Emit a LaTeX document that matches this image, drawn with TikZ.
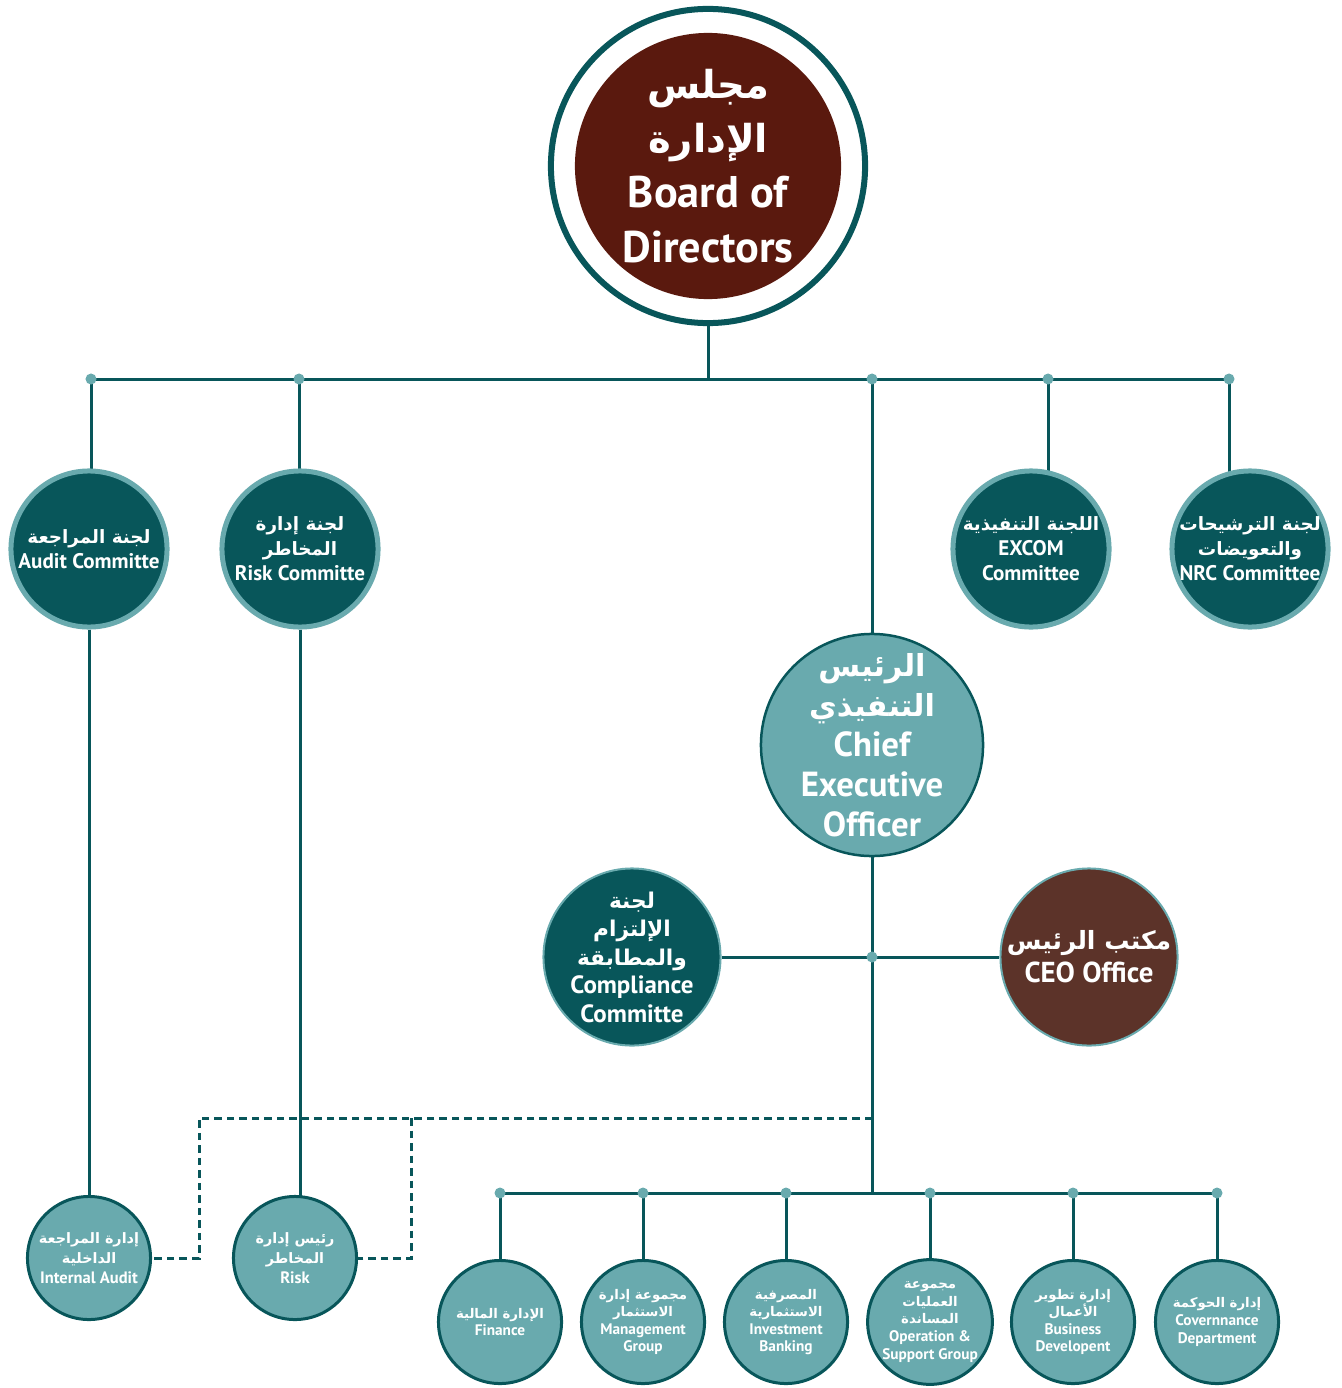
\documentclass[tikz,border=0pt]{standalone}
\usepackage{fontspec}
\setmainfont{PT Sans}
\newfontfamily\arabicfont[Script=Arabic,Scale=0.87]{DejaVu Sans}
\TeXXeTstate=1
\usepackage{tikz}
\usetikzlibrary{backgrounds}
\definecolor{dkteal}{HTML}{08565A}
\definecolor{ltteal}{HTML}{69AAAE}
\definecolor{boardred}{HTML}{5A190E}
\definecolor{officebrown}{HTML}{5C3329}
\newcommand{\artx}[1]{{\arabicfont\beginR #1\endR}}
\newcommand{\fsz}[2]{\fontsize{#1}{#2}\selectfont\bfseries}
\tikzset{
  link/.style={dkteal, line width=0.03cm},
  dashlink/.style={dkteal, line width=0.03cm, dash pattern=on 0.075cm off 0.05cm},
  jdot/.style={circle, fill=ltteal, inner sep=0pt, minimum size=0.11cm},
  cmte/.style={circle, fill=dkteal, draw=ltteal, line width=0.05cm, minimum size=1.56cm,
    inner sep=0pt, text=white, align=center, font=\fsz{6}{7.1}},
  dept/.style={circle, fill=ltteal, draw=dkteal, line width=0.03cm, minimum size=1.23cm,
    inner sep=0pt, text=white, align=center, font=\fsz{4.35}{5}},
  txt/.style={text=white, align=center, inner sep=0pt},
}
\begin{document}
\begin{tikzpicture}[x=0.01cm,y=-0.01cm]
\useasboundingbox (0,0) rectangle (1341,1388);

% board
\node[circle, draw=dkteal, line width=0.06cm, fill=white, minimum size=3.14cm] (ring) at (708,166) {};
\node[circle, fill=boardred, minimum size=2.66cm, inner sep=0pt] (board) at (708,166) {};
\node[txt, font=\fsz{12.6}{15.6}] (boardtxt) at (board)
  {\artx{مجلس}\\\artx{الإدارة}\\Board of\\Directors};

% committees
\node[cmte] (audit) at (89,549) {\artx{لجنة المراجعة}\\Audit Committe};
\node[cmte] (risk) at (300,549) {\artx{لجنة إدارة}\\\artx{المخاطر}\\Risk Committe};
\node[cmte] (excom) at (1031,549) {\artx{اللجنة التنفيذية}\\EXCOM\\Committee};
\node[cmte] (nrc) at (1250,549) {\artx{لجنة الترشيحات}\\\artx{والتعويضات}\\NRC Committee};

% ceo level
\node[circle, fill=ltteal, draw=dkteal, line width=0.025cm, minimum size=2.22cm, inner sep=0pt] (ceo) at (872,745) {};
\node[txt, font=\fsz{9.9}{11.4}] (ceotxt) at (ceo)
  {\artx{الرئيس}\\\artx{التنفيذي}\\Chief\\Executive\\Officer};
\node[circle, fill=dkteal, draw=ltteal, line width=0.02cm, minimum size=1.77cm, inner sep=0pt] (comp) at (632,957) {};
\node[txt, font=\fsz{7.1}{8.1}] (comptxt) at (comp)
  {\artx{لجنة}\\\artx{الإلتزام}\\\artx{والمطابقة}\\Compliance\\Committe};
\node[circle, fill=officebrown, draw=ltteal, line width=0.02cm, minimum size=1.77cm, inner sep=0pt] (office) at (1089,957) {};
\node[txt, font=\fsz{8.2}{9.4}] (officetxt) at (office) {\artx{مكتب الرئيس}\\CEO Office};

% internal units
\node[dept, font=\fsz{4.7}{5.7}] (iaudit) at (89,1258) {\artx{إدارة المراجعة}\\\artx{الداخلية}\\Internal Audit};
\node[dept, font=\fsz{4.7}{5.7}] (hrisk) at (295,1258) {\artx{رئيس إدارة}\\\artx{المخاطر}\\Risk};

% departments
\node[dept] (fin) at (500,1322) {\artx{الإدارة المالية}\\Finance};
\node[dept] (mgmt) at (643,1322) {\artx{مجموعة إدارة}\\\artx{الاستثمار}\\Management\\Group};
\node[dept] (invb) at (786,1322) {\artx{المصرفية}\\\artx{الاستثمارية}\\Investment\\Banking};
\node[dept] (ops) at (930,1322) {\artx{مجموعة}\\\artx{العمليات}\\\artx{المساندة}\\Operation \&\\Support Group};
\node[dept] (bizdev) at (1073,1322) {\artx{إدارة تطوير}\\\artx{الأعمال}\\Business\\Developent};
\node[dept] (gov) at (1217,1322) {\artx{إدارة الحوكمة}\\Covernnance\\Department};

% junctions
\coordinate (top) at (708,379);
\coordinate (j1) at (91,379);
\coordinate (j2) at (299,379);
\coordinate (j3) at (872,379);
\coordinate (j4) at (1048,379);
\coordinate (j5) at (1229,379);
\coordinate (mid) at (872,957);
\coordinate (bus) at (872,1193);
\coordinate (b1) at (500,1193);
\coordinate (b6) at (1217,1193);
\coordinate (dsh) at (872,1118);
\coordinate (da) at (199,1258);
\coordinate (db) at (411,1258);

\begin{pgfonlayer}{background}
\draw[link] (ring) -- (top);
\draw[link] (j1) -- (j5);
\draw[link] (j1) -- (j1 |- audit);
\draw[link] (j2) -- (j2 |- risk);
\draw[link] (j4) -- (j4 |- excom);
\draw[link] (j5) -- (j5 |- nrc);
\draw[link] (j3) -- (ceo);
\draw[link] (comp) -- (office);
\draw[link] (ceo) -- (bus);
\draw[link] (b1) -- (b6);
\draw[link] (audit) -- (iaudit);
\draw[link] (risk) -- (risk |- hrisk);
\foreach \d in {fin,mgmt,invb,ops,bizdev,gov}
  \draw[link] (\d |- bus) -- (\d);
\draw[dashlink] (dsh) -| (da) -- (iaudit);
\draw[dashlink] (dsh -| db) -- (db) -- (hrisk);
\end{pgfonlayer}

\foreach \j in {j1,j2,j3,j4,j5,mid}
  \node[jdot] at (\j) {};
\foreach \d in {fin,mgmt,invb,ops,bizdev,gov}
  \node[jdot] at (\d |- bus) {};
\end{tikzpicture}
\end{document}
